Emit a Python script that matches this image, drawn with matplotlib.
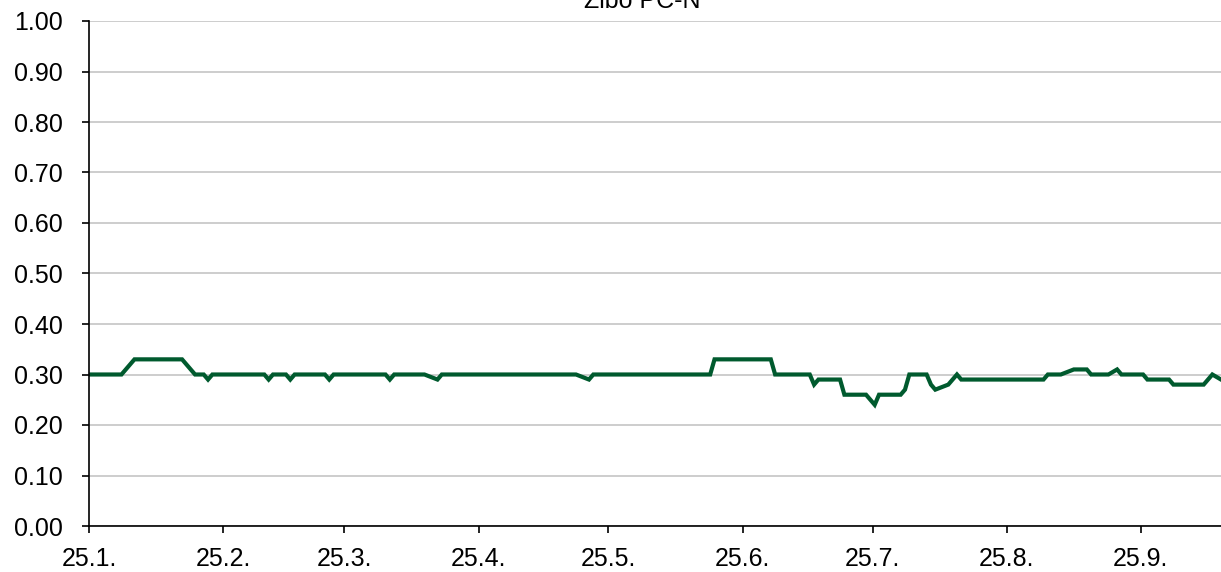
import numpy as np
import pandas as pd
import matplotlib
matplotlib.use("Agg")
import matplotlib.pyplot as plt
import matplotlib.dates as mdates
from matplotlib.ticker import FuncFormatter, MultipleLocator

# vertices of the price line (flat stretches between them)
dates = ["2025-01-01", "2025-01-08", "2025-01-11", "2025-01-22", "2025-01-25",
         "2025-01-27", "2025-01-28", "2025-01-29",
         "2025-02-10", "2025-02-11", "2025-02-12",
         "2025-02-15", "2025-02-16", "2025-02-17",
         "2025-02-24", "2025-02-25", "2025-02-26",
         "2025-03-10", "2025-03-11", "2025-03-12",
         "2025-03-19", "2025-03-22", "2025-03-23",
         "2025-04-23", "2025-04-26", "2025-04-27",
         "2025-05-24", "2025-05-25", "2025-06-07", "2025-06-08",
         "2025-06-16", "2025-06-17", "2025-06-18",
         "2025-06-23", "2025-06-24", "2025-06-29", "2025-07-01", "2025-07-02",
         "2025-07-07", "2025-07-08", "2025-07-09",
         "2025-07-13", "2025-07-14", "2025-07-15", "2025-07-18",
         "2025-07-20", "2025-07-21",
         "2025-08-09", "2025-08-10", "2025-08-13", "2025-08-16",
         "2025-08-19", "2025-08-20", "2025-08-24", "2025-08-26", "2025-08-27",
         "2025-09-01", "2025-09-02", "2025-09-07", "2025-09-08",
         "2025-09-15", "2025-09-17", "2025-09-19"]
values = [0.30, 0.30, 0.33, 0.33, 0.30,
          0.30, 0.29, 0.30,
          0.30, 0.29, 0.30,
          0.30, 0.29, 0.30,
          0.30, 0.29, 0.30,
          0.30, 0.29, 0.30,
          0.30, 0.29, 0.30,
          0.30, 0.29, 0.30,
          0.30, 0.33, 0.33, 0.30,
          0.30, 0.28, 0.29,
          0.29, 0.26, 0.26, 0.24, 0.26,
          0.26, 0.27, 0.30,
          0.30, 0.28, 0.27, 0.28,
          0.30, 0.29,
          0.29, 0.30, 0.30, 0.31,
          0.31, 0.30, 0.30, 0.31, 0.30,
          0.30, 0.29, 0.29, 0.28,
          0.28, 0.30, 0.29]

title = "Zibo PC-N"

W, H = 1221, 572
fig = plt.figure(figsize=(W / 100, H / 100), dpi=100)
ax = fig.add_axes([89 / W, (H - 526) / H, (W - 89) / W, (526 - 21) / H])

plt.rcParams['font.family'] = ['Liberation Sans', 'DejaVu Sans']
fnt = dict(family=['Liberation Sans', 'DejaVu Sans'], size=18)

# points sit in the middle of their day, like the source chart
x = pd.to_datetime(dates) + pd.Timedelta(hours=12)
ax.plot(x, values, color="#005a2e", lw=3.0, solid_joinstyle="miter", zorder=3)

ax.set_ylim(0, 1)
ax.yaxis.set_major_locator(MultipleLocator(0.1))
ax.yaxis.set_major_formatter(FuncFormatter(lambda v, p: f"{v:.2f}"))
ax.set_xlim(pd.Timestamp("2025-01-01"), pd.Timestamp("2025-09-19 12:00"))
ax.xaxis.set_major_locator(mdates.MonthLocator())
ax.xaxis.set_major_formatter(
    FuncFormatter(lambda v, p: f"{mdates.num2date(v).year % 100}.{mdates.num2date(v).month}."))

ax.grid(axis="y", color="#c0c0c0", lw=1.1, zorder=0)
for s in ["top", "right"]:
    ax.spines[s].set_visible(False)
for s in ["left", "bottom"]:
    ax.spines[s].set_linewidth(1.2)
    ax.spines[s].set_zorder(4)
ax.tick_params(direction="out", length=5, width=1.2)
ax.tick_params(axis="y", pad=14)
ax.tick_params(axis="x", pad=10)
for lab in ax.get_xticklabels() + ax.get_yticklabels():
    lab.set_fontfamily(fnt['family'])
    lab.set_fontsize(fnt['size'])

fig.text(642 / W, (H - 8) / H, title, ha="center", va="baseline", **fnt)

fig.savefig("out.png", dpi=100)
